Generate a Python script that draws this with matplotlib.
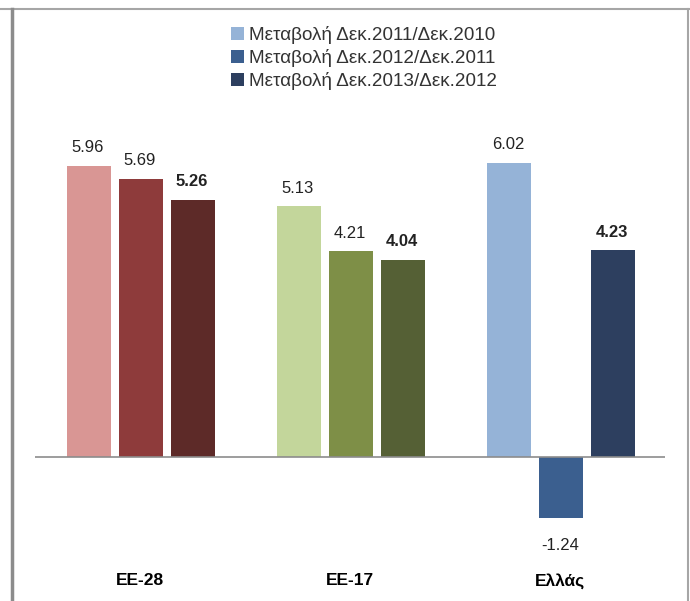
import numpy as np
import matplotlib.pyplot as plt
from matplotlib.lines import Line2D
from matplotlib.patches import Patch

plt.rcParams['font.family'] = ['Liberation Sans', 'DejaVu Sans']

categories = ['ΕΕ-28', 'ΕΕ-17', 'Ελλάς']
series_names = ['Μεταβολή Δεκ.2011/Δεκ.2010',
                'Μεταβολή Δεκ.2012/Δεκ.2011',
                'Μεταβολή Δεκ.2013/Δεκ.2012']
# rows: series, columns: categories
values = [[5.96, 5.13, 6.02],
          [5.69, 4.21, -1.24],
          [5.26, 4.04, 4.23]]
# each group has its own colour set
group_colors = [['#D99694', '#8E3B3B', '#5D2A28'],
                ['#C3D69B', '#7E8F47', '#556035'],
                ['#95B3D7', '#3B5F8F', '#2D3F5F']]

fig = plt.figure(figsize=(6.9, 6.01), dpi=100)
W, H = 690, 601
ax = fig.add_axes([35 / W, 1 - 555 / H, 630 / W, 440 / H])

x = np.arange(len(categories))
width = 0.21
offsets = [-0.248, 0, 0.248]

for s in range(len(series_names)):
    for c in range(len(categories)):
        v = values[s][c]
        ax.bar(x[c] + offsets[s] + 0.005, v, width, color=group_colors[c][s], zorder=2)
        bold = 'bold' if s == 2 else 'normal'
        if v >= 0:
            ax.text(x[c] + offsets[s], v + 0.22, '%.2f' % v, ha='center', va='bottom',
                    fontsize=12, fontweight=bold, color='#222222')
        else:
            ax.text(x[c] + offsets[s], v - 0.42, '%.2f' % v, ha='center', va='top',
                    fontsize=12, fontweight=bold, color='#222222')

ax.axhline(0, color='#8C8C8C', linewidth=1.2, zorder=3)
ax.set_xlim(-0.5, 2.5)
ax.set_ylim(-2, 7)
ax.set_xticks(x)
ax.set_xticklabels(categories, fontsize=12.5, fontweight='bold')
ax.tick_params(axis='x', length=0, pad=13)
ax.set_yticks([])
for sp in ax.spines.values():
    sp.set_visible(False)

handles = [Patch(facecolor=group_colors[2][i], edgecolor='none') for i in range(3)]
leg = fig.legend(handles, series_names, loc='center', bbox_to_anchor=(364 / W, 1 - 58 / H),
                 frameon=False, fontsize=13.6, handlelength=0.7, handleheight=0.7,
                 handletextpad=0.25, labelspacing=0.27, labelcolor='#333333')

# outer chart border
fig.add_artist(Line2D([0, 1], [1 - 9 / H, 1 - 9 / H], color='#A6A6A6', linewidth=1.5))
fig.add_artist(Line2D([12 / W, 12 / W], [0, 1 - 9 / H], color='#8C8C8C', linewidth=2.5))
fig.add_artist(Line2D([688 / W, 688 / W], [0, 1 - 9 / H], color='#A6A6A6', linewidth=1.5))

fig.savefig('out.png', dpi=100)
